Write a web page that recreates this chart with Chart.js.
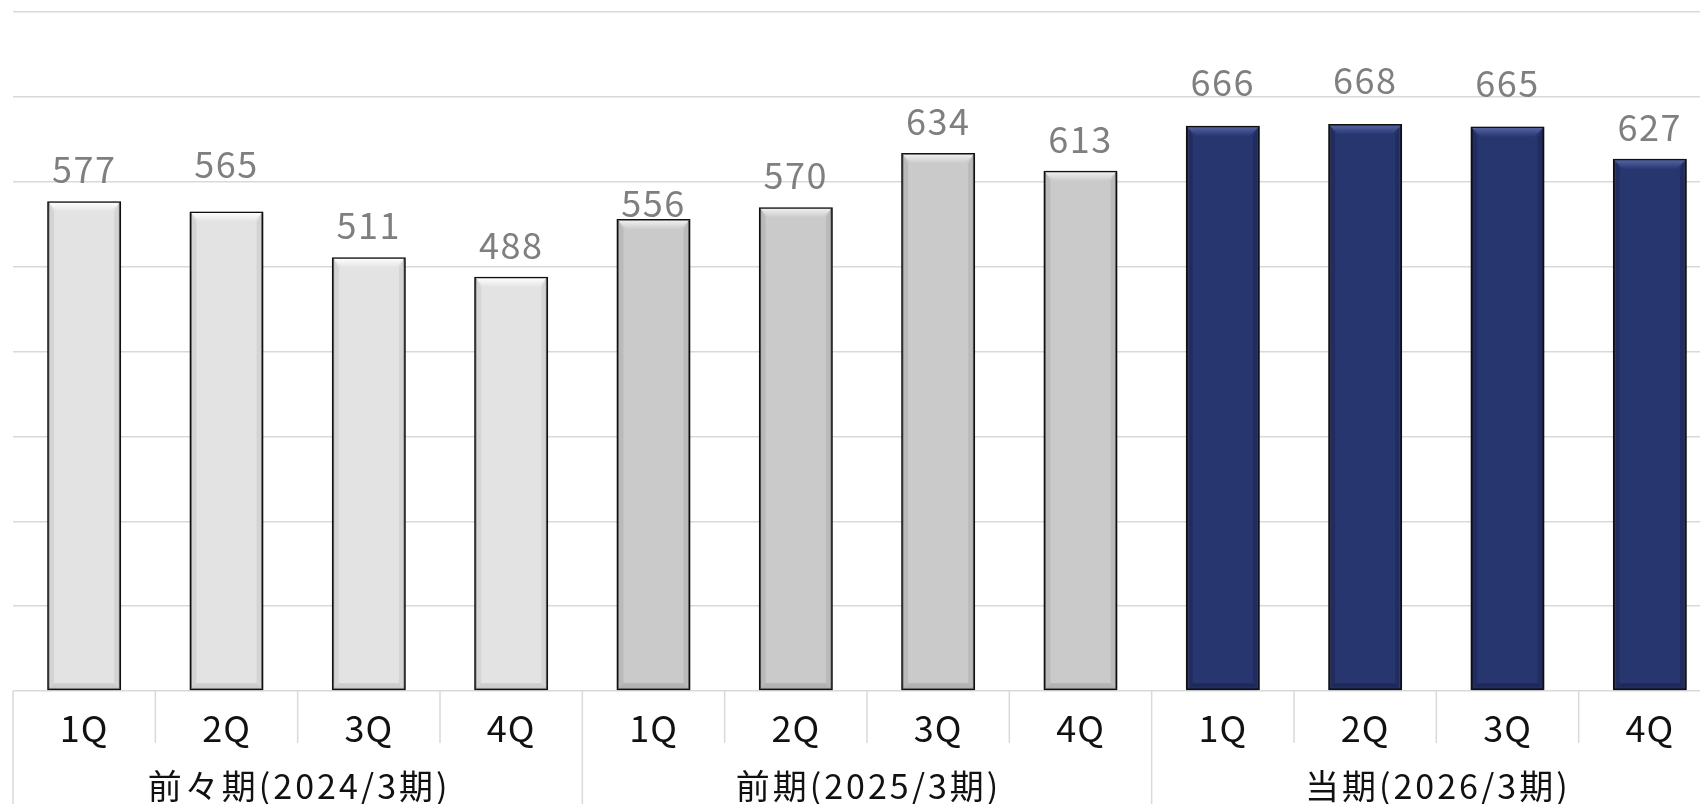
<!DOCTYPE html>
<html lang="ja">
<head>
<meta charset="utf-8">
<title>売上高 四半期推移</title>
<script src="https://cdn.jsdelivr.net/npm/chart.js@4.4.1/dist/chart.umd.min.js"></script>
<style>
  html, body { margin: 0; padding: 0; background: #fff; overflow: hidden; }
  #wrap { position: absolute; left: 0; top: 0; width: 1760px; height: 840px; }
</style>
</head>
<body>
<div id="wrap"><canvas id="chartVendas"></canvas></div>
<script>
// Dados
const categorias = ['1Q', '2Q', '3Q', '4Q', '1Q', '2Q', '3Q', '4Q', '1Q', '2Q', '3Q', '4Q'];
const periodos = ['前々期(2024/3期)', '前期(2025/3期)', '当期(2026/3期)'];
const valores = [577, 565, 511, 488, 556, 570, 634, 613, 666, 668, 665, 627];
const eixoMax = 800;
const eixoPasso = 100;

// Estilo
const FONTE = '"Noto Sans CJK JP", "Noto Sans", sans-serif';
const corPeriodo = ['#e3e3e3', '#cacaca', '#283670'];
const corBrilho = ['#fdfdfd', '#efefef', '#5262a2'];
const corSombra = ['#c8c8c8', '#adadad', '#1c2754'];
const distRotulo = [18, 33, 18, 18, 2, 18, 18, 18, 30, 30, 30, 18];
const corGrade = '#d9d9d9';

const grupoDe = i => Math.floor(i / 4);

// Rótulos de valor + chanfro das barras
const pluginBarras = {
    id: 'barras',
    beforeDatasetsDraw(chart) {
        const ctx = chart.ctx;
        ctx.save();
        ctx.shadowColor = 'rgba(0,0,0,0.28)';
        ctx.shadowBlur = 5;
    },
    afterDatasetsDraw(chart) {
        const ctx = chart.ctx;
        ctx.restore();
        const meta = chart.getDatasetMeta(0);
        meta.data.forEach((bar, i) => {
            const g = grupoDe(i);
            const L = bar.x - bar.width / 2 + 1.5;
            const R = bar.x + bar.width / 2 - 1.5;
            const T = bar.y + 1.5;
            const B = bar.base - 1.5;
            const b = 9;
            ctx.save();
            // topo claro
            const grad = ctx.createLinearGradient(0, T, 0, T + b);
            grad.addColorStop(0, corBrilho[g]);
            grad.addColorStop(1, corPeriodo[g]);
            ctx.fillStyle = grad;
            ctx.beginPath();
            ctx.moveTo(L, T); ctx.lineTo(R, T); ctx.lineTo(R - b, T + b); ctx.lineTo(L + b, T + b);
            ctx.closePath(); ctx.fill();
            // laterais e base mais escuras
            ctx.fillStyle = corSombra[g];
            ctx.globalAlpha = 0.55;
            ctx.beginPath();
            ctx.moveTo(R, T); ctx.lineTo(R, B); ctx.lineTo(R - b * 0.6, B - b * 0.6); ctx.lineTo(R - b * 0.6, T + b);
            ctx.closePath(); ctx.fill();
            ctx.beginPath();
            ctx.moveTo(L, T); ctx.lineTo(L, B); ctx.lineTo(L + b * 0.6, B - b * 0.6); ctx.lineTo(L + b * 0.6, T + b);
            ctx.closePath(); ctx.fill();
            ctx.globalAlpha = 0.8;
            ctx.beginPath();
            ctx.moveTo(L, B); ctx.lineTo(R, B); ctx.lineTo(R - b * 0.6, B - b * 0.6); ctx.lineTo(L + b * 0.6, B - b * 0.6);
            ctx.closePath(); ctx.fill();
            ctx.restore();

            // valor
            ctx.save();
            ctx.font = '36px ' + FONTE;
            ctx.letterSpacing = '1.5px';
            ctx.fillStyle = '#7f7f7f';
            ctx.textAlign = 'center';
            ctx.textBaseline = 'alphabetic';
            ctx.fillText(String(valores[i]), bar.x, bar.y - distRotulo[i]);
            ctx.restore();
        });
    }
};

// Eixo de categorias em dois níveis
const pluginEixo = {
    id: 'eixoDuplo',
    afterDraw(chart) {
        const ctx = chart.ctx;
        const x = chart.scales.x;
        const area = chart.chartArea;
        const meio = (x.getPixelForValue(1) - x.getPixelForValue(0)) / 2;
        ctx.save();
        ctx.strokeStyle = corGrade;
        ctx.lineWidth = 1.5;
        for (let i = 0; i <= categorias.length; i++) {
            const px = (i < categorias.length ? x.getPixelForValue(i) : x.getPixelForValue(i - 1) + 2 * meio) - meio;
            const fimGrupo = i % 4 === 0;
            ctx.beginPath();
            ctx.moveTo(px, area.bottom);
            ctx.lineTo(px, fimGrupo ? chart.height : area.bottom + 52);
            ctx.stroke();
        }
        ctx.fillStyle = '#111';
        ctx.textAlign = 'center';
        ctx.textBaseline = 'middle';
        ctx.font = '36px ' + FONTE;
        ctx.letterSpacing = '1px';
        categorias.forEach((c, i) => {
            ctx.fillText(c, x.getPixelForValue(i), area.bottom + 37);
        });
        ctx.font = '34px ' + FONTE;
        ctx.letterSpacing = '3px';
        periodos.forEach((p, g) => {
            const cx = (x.getPixelForValue(g * 4) + x.getPixelForValue(g * 4 + 3)) / 2;
            ctx.fillText(p, cx + 1.5, area.bottom + 95);
        });
        ctx.restore();
    }
};

window.addEventListener('DOMContentLoaded', () => {
    const ctx = document.getElementById('chartVendas').getContext('2d');
    new Chart(ctx, {
        type: 'bar',
        data: {
            labels: categorias,
            datasets: [{
                data: valores,
                backgroundColor: valores.map((v, i) => corPeriodo[grupoDe(i)]),
                borderColor: '#111111',
                borderWidth: 2.5,
                borderSkipped: false,
                barPercentage: 0.52,
                categoryPercentage: 1
            }]
        },
        options: {
            responsive: true,
            maintainAspectRatio: false,
            animation: false,
            layout: { padding: { left: 13, top: 12, right: 39, bottom: 149 } },
            plugins: { legend: { display: false }, tooltip: { enabled: false } },
            scales: {
                x: { display: false },
                y: {
                    min: 0,
                    max: eixoMax,
                    ticks: { display: false, stepSize: eixoPasso },
                    border: { display: false },
                    grid: { color: corGrade, lineWidth: 1.5, drawTicks: false },
                    afterFit: s => { s.width = 0; }
                }
            }
        },
        plugins: [pluginBarras, pluginEixo]
    });
});
</script>
</body>
</html>
